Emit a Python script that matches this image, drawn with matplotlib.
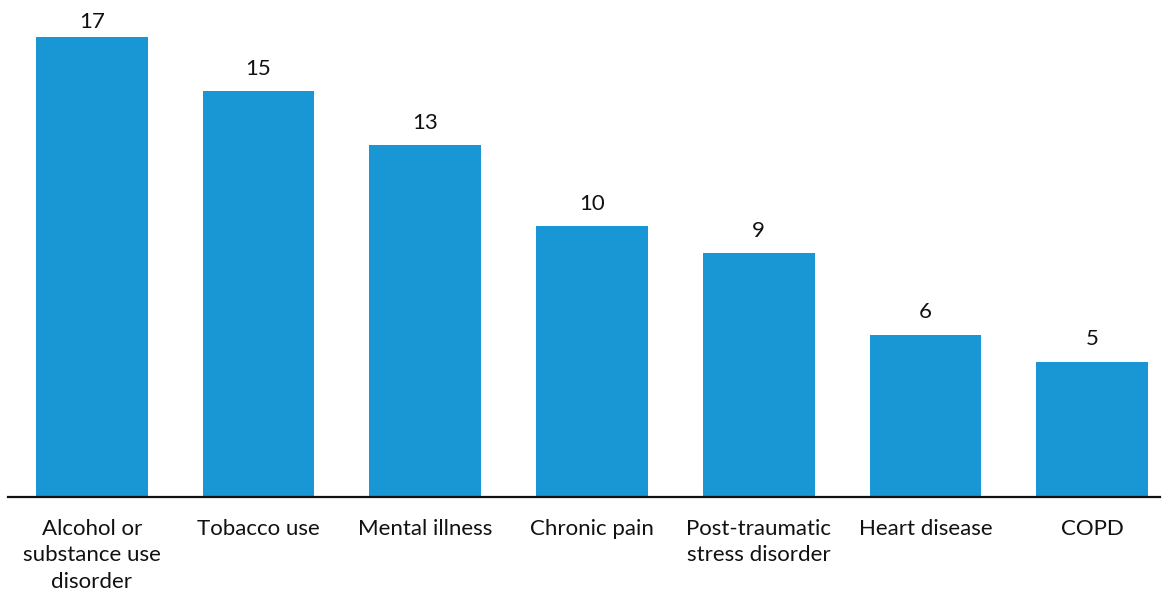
import matplotlib
matplotlib.use("Agg")
import matplotlib.pyplot as plt

categories = [
    "Alcohol or\nsubstance use\ndisorder",
    "Tobacco use",
    "Mental illness",
    "Chronic pain",
    "Post-traumatic\nstress disorder",
    "Heart disease",
    "COPD",
]
values = [17, 15, 13, 10, 9, 6, 5]

plt.rcParams["font.family"] = ["Lato", "DejaVu Sans"]

fig = plt.figure(figsize=(11.64, 5.90), dpi=100)
W, H = 1164, 590
px_per_unit = 27.06
ymax = 17.55
left, right = 8, 1160
bottom = 497
top = bottom - ymax * px_per_unit
ax = fig.add_axes([left / W, (H - bottom) / H, (right - left) / W, (bottom - top) / H])

x = range(len(categories))
ax.bar(x, values, width=0.67, color="#1897D4")

# value labels sit above each bar, kept inside the plotting area
label_gap = 22.5 / px_per_unit
for xi, v in zip(x, values):
    ax.text(xi, min(v + label_gap, ymax), str(v), ha="center", va="center",
            fontsize=16, color="#111111", clip_on=False)

ax.set_xlim(-0.503, 6.407)
ax.set_ylim(0, ymax)
ax.set_xticks(list(x))
ax.set_xticklabels(categories, fontsize=16, color="#111111", linespacing=1.41)
ax.tick_params(axis="x", length=0, pad=15.5)
ax.set_yticks([])
for s in ["top", "right", "left"]:
    ax.spines[s].set_visible(False)
ax.spines["bottom"].set_linewidth(1.6)
ax.spines["bottom"].set_color("#111111")

fig.savefig("out.png", dpi=100)
